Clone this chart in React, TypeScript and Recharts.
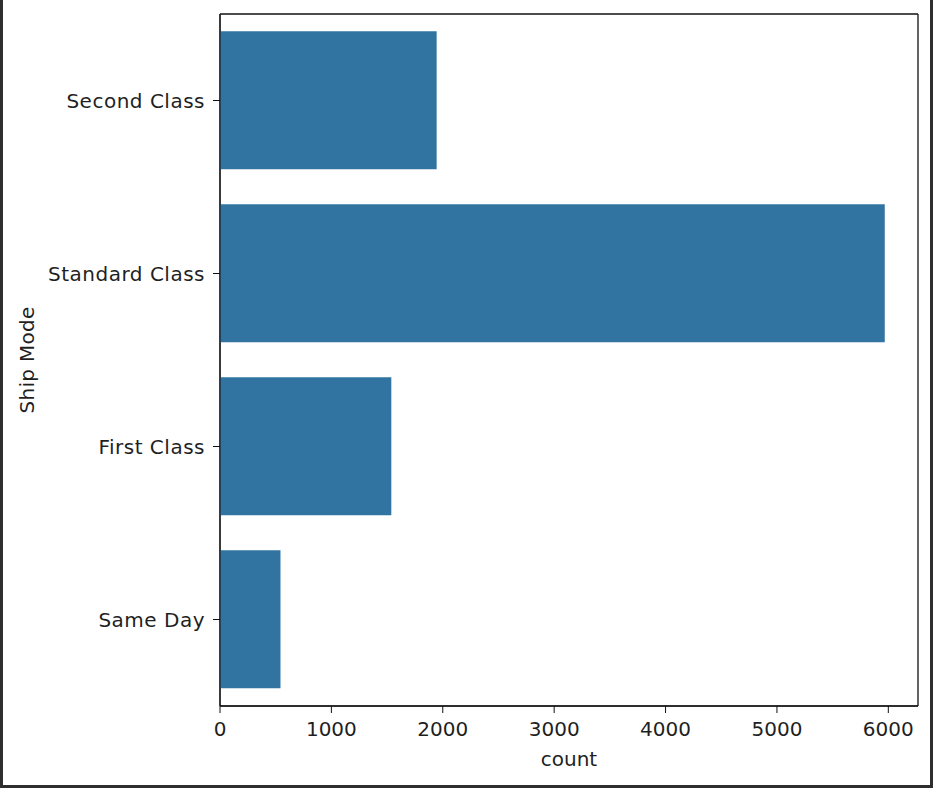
import { BarChart, Bar, XAxis, YAxis, Label, CartesianGrid } from "recharts";

const shipModes = ["Second Class", "Standard Class", "First Class", "Same Day"];
const counts = [1945, 5968, 1538, 543];
const countTicks = [0, 1000, 2000, 3000, 4000, 5000, 6000];

const data = shipModes.map((mode, i) => ({ mode, count: counts[i] }));

// matplotlib pads the value axis by 5% past the largest bar
const xMax = Math.max(...counts) * 1.05;

const FONT = "'DejaVu Sans', sans-serif";
const TEXT = "#1f1f1f";
const numTick = { fontSize: 20, fill: TEXT, fontFamily: FONT };
const catTick = { ...numTick, letterSpacing: 0.5 };

export default function App() {
  return (
    <div
      style={{
        position: "absolute",
        left: 0,
        top: 0,
        width: 933,
        height: 788,
        background: "#fff",
        boxSizing: "border-box",
        borderLeft: "3px solid #2e2e2e",
        borderRight: "3px solid #2e2e2e",
        borderBottom: "3px solid #2e2e2e",
      }}
    >
      <div style={{ position: "absolute", left: -3, top: 0 }}>
        <BarChart
          width={933}
          height={788}
          data={data}
          layout="vertical"
          margin={{ top: 14, right: 15, bottom: 0, left: 0 }}
          barCategoryGap="10%"
        >
          {/* only the plot frame: lines at the four edges of the plot area */}
          <CartesianGrid
            stroke="#111"
            strokeWidth={1.3}
            horizontalCoordinatesGenerator={({ offset }: any) => [
              offset.top,
              offset.top + offset.height,
            ]}
            verticalCoordinatesGenerator={({ offset }: any) => [
              offset.left,
              offset.left + offset.width,
            ]}
          />
          <XAxis
            type="number"
            dataKey="count"
            domain={[0, xMax]}
            ticks={countTicks}
            allowDataOverflow
            height={82}
            tick={numTick}
            tickSize={7}
            tickMargin={9}
            stroke="#111"
            tickLine={{ stroke: "#111" }}
          >
            <Label
              content={({ viewBox }: any) => (
                <text
                  x={viewBox.x + viewBox.width / 2}
                  y={viewBox.y + 60}
                  textAnchor="middle"
                  fontSize={20}
                  fontFamily={FONT}
                  fill={TEXT}
                >
                  count
                </text>
              )}
            />
          </XAxis>
          <YAxis
            type="category"
            dataKey="mode"
            width={220}
            tick={catTick}
            tickSize={7}
            tickMargin={8}
            stroke="#111"
            tickLine={{ stroke: "#111" }}
          >
            <Label
              content={({ viewBox }: any) => (
                <text
                  x={viewBox.x + 34}
                  y={viewBox.y + viewBox.height / 2}
                  textAnchor="middle"
                  fontSize={20}
                  letterSpacing={0.3}
                  fontFamily={FONT}
                  fill={TEXT}
                  transform={`rotate(-90, ${viewBox.x + 34}, ${viewBox.y + viewBox.height / 2})`}
                >
                  Ship Mode
                </text>
              )}
            />
          </YAxis>
          <Bar dataKey="count" fill="#3274a1" isAnimationActive={false} />
        </BarChart>
      </div>
    </div>
  );
}
